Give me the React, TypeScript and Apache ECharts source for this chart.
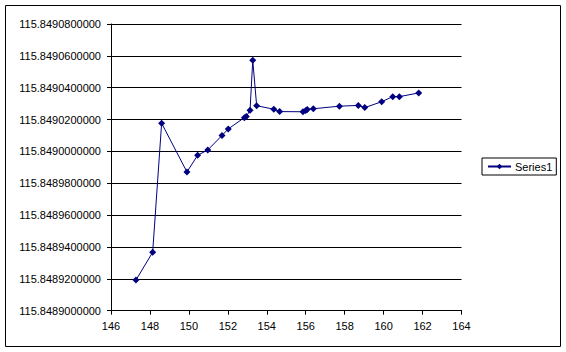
import React, { useEffect, useRef } from "react";
import * as echarts from "echarts";

const seriesName = "Series1";
const xValues = [
  147.28, 148.14, 148.6, 149.9, 150.45, 150.97, 151.7, 152.02, 152.85, 152.95,
  153.14, 153.28, 153.48, 154.36, 154.66, 155.86, 156.0, 156.08, 156.39, 157.73,
  158.7, 159.03, 159.9, 160.47, 160.81, 161.8,
];
const yValues = [
  115.8489192, 115.8489367, 115.8490177, 115.8489871, 115.8489976, 115.8490009,
  115.84901, 115.8490141, 115.8490212, 115.849022, 115.8490258, 115.8490572,
  115.8490287, 115.8490265, 115.849025, 115.8490249, 115.8490257, 115.8490263,
  115.8490268, 115.8490284, 115.8490289, 115.8490275, 115.8490312, 115.8490344,
  115.8490344, 115.8490367,
];
const xMin = 146;
const xMax = 164;
const xStep = 2;
const yMin = 115.8489;
const yMax = 115.84908;
const yStep = 0.00002;

const FONT = "'Liberation Sans', Arial, sans-serif";

export default function App() {
  const ref = useRef<HTMLDivElement>(null);
  useEffect(() => {
    if (!ref.current) return;
    const chart = echarts.init(ref.current, undefined, { renderer: "svg" });
    const data = xValues.map((x, i) => [x, yValues[i]]);
    chart.setOption({
      animation: false,
      backgroundColor: "#ffffff",
      textStyle: { fontFamily: FONT },
      grid: { left: 111, right: 104.5, top: 24, bottom: 41.3, containLabel: false },
      graphic: [
        {
          type: "rect",
          shape: { x: 5.5, y: 5.5, width: 555, height: 341 },
          style: { fill: "none", stroke: "#000", lineWidth: 1 },
          silent: true,
        },
      ],
      legend: {
        left: 482,
        top: 158,
        orient: "vertical",
        borderColor: "#000",
        borderWidth: 1,
        borderRadius: 0,
        padding: [3, 4, 3, 5],
        itemWidth: 23,
        itemHeight: 7,
        itemGap: 5,
        textStyle: { fontFamily: FONT, fontSize: 11, color: "#000", padding: [0, 0, 0, -1] },
        data: [seriesName],
      },
      xAxis: {
        type: "value",
        min: xMin,
        max: xMax,
        interval: xStep,
        axisLine: { show: true, onZero: false, lineStyle: { color: "#000", width: 1 } },
        axisTick: { show: true, inside: false, length: 4, lineStyle: { color: "#000" } },
        axisLabel: { color: "#000", fontSize: 11, fontFamily: FONT, margin: 10 },
        splitLine: { show: false },
      },
      yAxis: {
        type: "value",
        min: yMin,
        max: yMax,
        interval: yStep,
        scale: true,
        axisLine: { show: true, onZero: false, lineStyle: { color: "#000", width: 1 } },
        axisTick: { show: true, inside: false, length: 4, lineStyle: { color: "#000" } },
        axisLabel: {
          color: "#000",
          fontSize: 11,
          fontFamily: FONT,
          margin: 10,
          formatter: (v: number) => v.toFixed(10),
        },
        splitLine: { show: true, lineStyle: { color: "#000", width: 1 } },
      },
      series: [
        {
          name: seriesName,
          type: "line",
          data,
          symbol: "diamond",
          symbolSize: 7,
          showAllSymbol: true,
          lineStyle: { color: "#000080", width: 1 },
          itemStyle: { color: "#000080" },
        },
      ],
    });
    return () => chart.dispose();
  }, []);
  return (
    <div
      ref={ref}
      style={{ position: "absolute", left: 0, top: 0, width: 566, height: 352, background: "#fff" }}
    />
  );
}
